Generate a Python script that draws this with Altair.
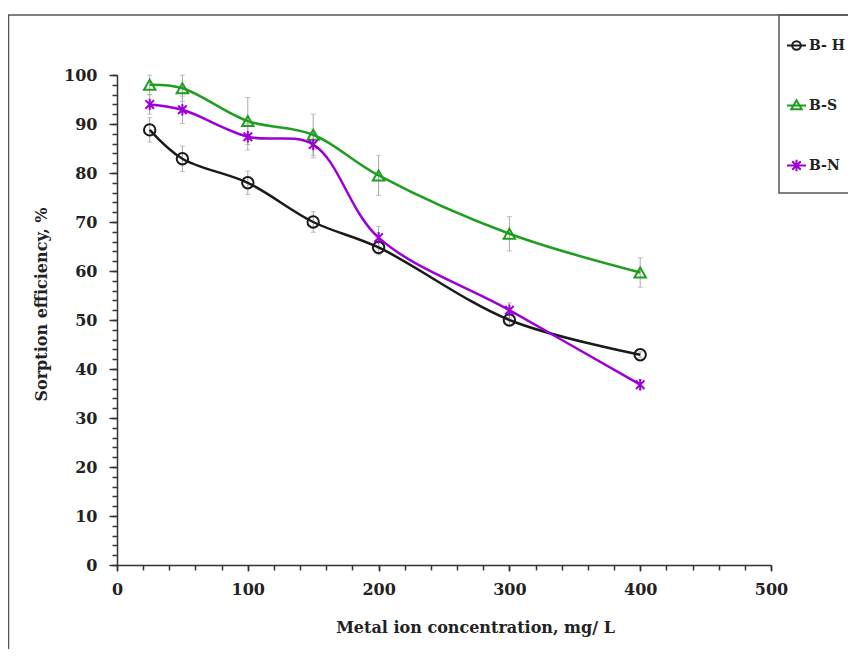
import altair as alt
import pandas as pd

# ---- data ----
conc = [25, 50, 100, 150, 200, 300, 400]
series_names = ["B- H", "B-S", "B-N"]
bh = [88.8, 82.9, 78.0, 70.0, 64.8, 50.0, 42.9]
bh_err = [2.5, 2.6, 2.4, 2.1, 1.5, 1.0, 0.6]
bs = [98.0, 97.3, 90.6, 87.8, 79.5, 67.6, 59.7]
bs_err = [2.0, 2.7, 4.8, 4.2, 4.1, 3.5, 3.0]
bn = [94.0, 92.9, 87.4, 85.8, 66.8, 52.0, 36.8]
bn_err = [2.0, 2.8, 2.7, 2.7, 2.3, 1.5, 1.0]
x_major = [0, 100, 200, 300, 400, 500]
x_minor = list(range(0, 501, 20))
y_major = list(range(0, 101, 10))
y_minor = list(range(0, 101, 2))

colors = ["#1a1a1a", "#1f9e1f", "#9b00d6"]
FONT = "DejaVu Serif"

rows = []
for name, vals, errs in [("B- H", bh, bh_err), ("B-S", bs, bs_err), ("B-N", bn, bn_err)]:
    for c, v, e in zip(conc, vals, errs):
        rows.append({"series": name, "conc": c, "eff": v, "lo": v - e, "hi": v + e})
df = pd.DataFrame(rows)

star = "M-0.75,-0.75L0.75,0.75M-0.75,0.75L0.75,-0.75M0,-1V1"
leg_paths = [
    "M-1,0H1M0.45,0A0.45,0.45 0 1,1 -0.45,0A0.45,0.45 0 1,1 0.45,0",
    "M-1,0H1M0,-0.55L0.55,0.4L-0.55,0.4Z",
    "M-1,0H1M-0.45,-0.45L0.45,0.45M-0.45,0.45L0.45,-0.45M0,-0.6V0.6",
]

xs = alt.Scale(domain=[0, 500], nice=False)
ys = alt.Scale(domain=[0, 100], nice=False)
cs = alt.Scale(domain=series_names, range=colors)

base = alt.Chart(df)

x_major_axis = alt.Axis(values=x_major, title="Metal ion concentration, mg/ L", orient="bottom",
                        tickSize=6, labelPadding=10, titlePadding=22, format="d", labelFlush=False,
                        titleX=358, titleFontSize=16)
y_major_axis = alt.Axis(values=y_major, title="Sorption efficiency, %", orient="left",
                        tickSize=8, labelPadding=12, titlePadding=14, format="d", titleFontSize=16,
                        labelFlush=False, titleY=229)
x_minor_axis = alt.Axis(values=x_minor, labels=False, title=None, orient="bottom", tickSize=5, domain=False)
y_minor_axis = alt.Axis(values=y_minor, labels=False, title=None, orient="left", tickSize=5, domain=False)

err = base.mark_rule(color="#a8a8a8", strokeWidth=1).encode(
    x=alt.X("conc:Q", scale=xs, axis=x_major_axis),
    y=alt.Y("lo:Q", scale=ys, axis=y_major_axis),
    y2="hi:Q",
)
cap_lo = base.mark_tick(color="#a8a8a8", orient="horizontal", size=5, thickness=1).encode(
    x=alt.X("conc:Q", scale=xs, axis=x_minor_axis),
    y=alt.Y("lo:Q", scale=ys, axis=y_minor_axis),
)
cap_hi = base.mark_tick(color="#a8a8a8", orient="horizontal", size=5, thickness=1).encode(
    x=alt.X("conc:Q", scale=xs, axis=None),
    y=alt.Y("hi:Q", scale=ys, axis=None),
)
lines = base.mark_line(interpolate="catmull-rom", strokeWidth=2.5).encode(
    x=alt.X("conc:Q", scale=xs, axis=None),
    y=alt.Y("eff:Q", scale=ys, axis=None),
    color=alt.Color("series:N", scale=cs, legend=None),
    detail="series:N",
)
points = base.mark_point(filled=False, strokeWidth=2, size=130, opacity=1).encode(
    x=alt.X("conc:Q", scale=xs, axis=None),
    y=alt.Y("eff:Q", scale=ys, axis=None),
    color=alt.Color("series:N", scale=cs, legend=None),
    shape=alt.Shape("series:N", scale=alt.Scale(domain=series_names,
                                                range=["circle", "triangle-up", star]), legend=None),
)
legend_layer = base.mark_point(filled=False, strokeWidth=2, size=361, opacity=1).encode(
    x=alt.X("conc:Q", scale=xs, axis=None),
    y=alt.Y("eff:Q", scale=ys, axis=None),
    color=alt.Color("series:N", scale=alt.Scale(domain=series_names, range=colors),
                    legend=alt.Legend(title=None, orient="none", legendX=669, legendY=-40)),
    shape=alt.Shape("series:N", scale=alt.Scale(domain=series_names, range=leg_paths),
                    legend=alt.Legend(title=None, orient="none", legendX=669, legendY=-40)),
).transform_filter("false")

frame_df = pd.DataFrame([{"k": 0}])
outer = alt.Chart(frame_df).mark_rect(fill=None, stroke="#555555", strokeWidth=1.5).encode(
    x=alt.value(-108.5), x2=alt.value(760), y=alt.value(-60), y2=alt.value(700)
)
legbox = alt.Chart(frame_df).mark_rect(fill=None, stroke="#555555", strokeWidth=1.5).encode(
    x=alt.value(662), x2=alt.value(760), y=alt.value(-60), y2=alt.value(118)
)

chart = alt.layer(outer, legbox, err, cap_lo, cap_hi, lines, points, legend_layer).resolve_scale(
    shape="independent", color="independent"
).resolve_axis(x="independent", y="independent").properties(
    width=654, height=490,
    autosize=alt.AutoSizeParams(type="none"),
    padding={"left": 109, "top": 67, "right": 77, "bottom": 84},
).configure_view(stroke=None).configure_axis(
    grid=False, domainColor="#333333", domainWidth=1.5, tickColor="#333333", tickWidth=1.5,
    labelFont=FONT, labelFontWeight="bold", labelFontSize=16, labelColor="#222222",
    titleFont=FONT, titleFontWeight="bold", titleFontSize=16, titleColor="#222222",
).configure_legend(
    padding=0, rowPadding=41, labelFont=FONT, labelFontWeight="bold", labelFontSize=14,
    labelColor="#222222", labelOffset=2, symbolStrokeWidth=2, strokeColor=None,
    symbolSize=361, symbolFillColor="transparent",
)

chart.save("out.html", embed_options={"renderer": "svg", "actions": False})
